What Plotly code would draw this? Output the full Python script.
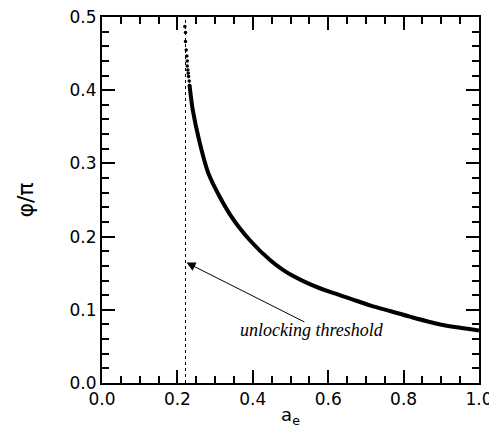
import plotly.graph_objects as go

# sparse dots near the start of the curve
dots_x = [0.2197, 0.2215, 0.2215, 0.2234, 0.2250, 0.2261, 0.2261, 0.2277, 0.2287, 0.2295, 0.2314, 0.2322]
dots_y = [0.487, 0.4788, 0.4665, 0.455, 0.4468, 0.440, 0.4331, 0.4276, 0.4231, 0.4186, 0.4126, 0.4067]

# continuous part of the curve
curve_x = [0.2322, 0.2406, 0.2575, 0.284, 0.341, 0.394, 0.448, 0.479, 0.501,
           0.554, 0.607, 0.660, 0.713, 0.766, 0.819, 0.897, 0.950, 1.0]
curve_y = [0.4067, 0.3734, 0.332, 0.284, 0.229, 0.194, 0.167, 0.155, 0.148,
           0.1345, 0.124, 0.115, 0.1057, 0.098, 0.0903, 0.080, 0.0755, 0.0718]

threshold = 0.2215
arrow_tip = (0.2242, 0.1645)
arrow_tail = (0.5407, 0.0824)
label_pos = (0.557, 0.072)

fig = go.Figure()
fig.add_trace(go.Scatter(x=[threshold, threshold], y=[0, 0.5], mode="lines",
                         line=dict(color="black", width=1, dash="dot"), showlegend=False))
fig.add_trace(go.Scatter(x=curve_x, y=curve_y, mode="lines",
                         line=dict(color="black", width=4, shape="spline", smoothing=0.8),
                         showlegend=False))
fig.add_trace(go.Scatter(x=dots_x, y=dots_y, mode="markers",
                         marker=dict(color="black", size=3.5), showlegend=False))

fig.add_annotation(x=arrow_tip[0], y=arrow_tip[1], ax=arrow_tail[0], ay=arrow_tail[1],
                   xref="x", yref="y", axref="x", ayref="y", text="",
                   showarrow=True, arrowhead=2, arrowsize=1.8, arrowwidth=1, arrowcolor="black")
fig.add_annotation(x=label_pos[0], y=label_pos[1], xref="x", yref="y",
                   text="<i>unlocking threshold</i>", showarrow=False,
                   font=dict(family="Liberation Serif", size=18, color="black"))

axis_common = dict(showline=True, mirror="ticks", linecolor="black", linewidth=2,
                   ticks="inside", ticklen=13, tickwidth=2, tickcolor="black",
                   showgrid=False, zeroline=False, tickformat=".1f", automargin=False,
                   ticklabeloverflow="allow",
                   tickfont=dict(family="DejaVu Sans", size=17, color="black"))

fig.update_xaxes(range=[0, 1], dtick=0.2, tick0=0,
                 minor=dict(ticks="inside", ticklen=7, dtick=0.05, tickwidth=1.5, tickcolor="black"),
                 title=dict(text="a<sub>e</sub>", font=dict(family="DejaVu Sans", size=18, color="black"),
                            standoff=0),
                 **axis_common)
fig.update_yaxes(range=[0, 0.5], dtick=0.1, tick0=0,
                 minor=dict(ticks="inside", ticklen=7, dtick=0.02, tickwidth=1.5, tickcolor="black"),
                 title=dict(text="φ/π", font=dict(family="DejaVu Sans", size=22, color="black"),
                            standoff=30),
                 **axis_common)

# page body adds an 8px margin, so the figure is sized to fill the rest of the window
fig.update_layout(width=489, height=425, margin=dict(l=94, r=18, t=9, b=50),
                  plot_bgcolor="white", paper_bgcolor="white")

fig.write_html("out.html")
